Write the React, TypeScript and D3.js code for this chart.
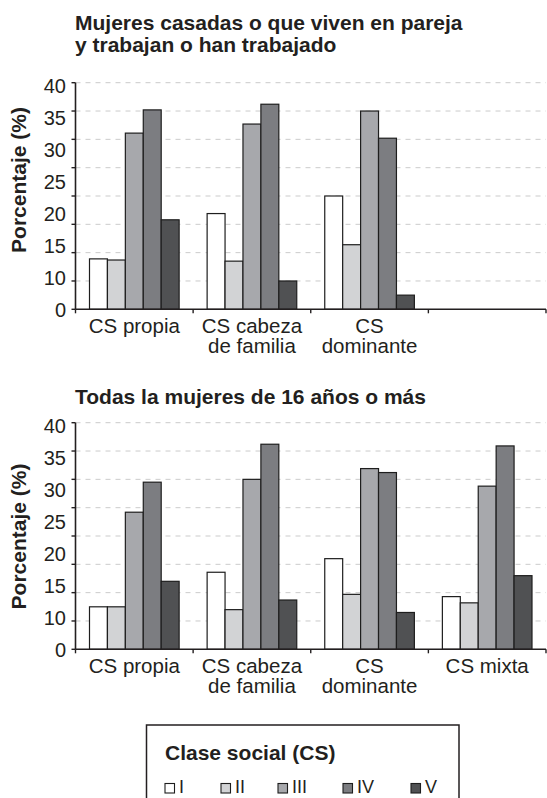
import React from "react";
import * as d3 from "d3";

const categories = ["CS propia", "CS cabeza de familia", "CS dominante", "CS mixta"];
const categoryLines: Record<string, string[]> = {
  "CS propia": ["CS propia"],
  "CS cabeza de familia": ["CS cabeza", "de familia"],
  "CS dominante": ["CS", "dominante"],
  "CS mixta": ["CS mixta"],
};
const classes = ["I", "II", "III", "IV", "V"];
const classColors = ["#ffffff", "#d2d3d5", "#a7a8ac", "#7c7d81", "#505153"];

// Panel 1: Mujeres casadas o que viven en pareja y trabajan o han trabajado
const topPropia = [8.9, 8.7, 31.1, 35.2, 15.8];
const topCabeza = [16.9, 8.5, 32.7, 36.2, 5.0];
const topDominante = [20.0, 11.4, 35.0, 30.2, 2.5];

// Panel 2: Todas la mujeres de 16 años o más
const botPropia = [7.5, 7.5, 24.2, 29.5, 12.0];
const botCabeza = [13.6, 7.0, 30.0, 36.2, 8.7];
const botDominante = [16.0, 9.7, 31.9, 31.2, 6.5];
const botMixta = [9.3, 8.2, 28.8, 35.9, 13.0];

const gridValues = [0, 5, 10, 15, 20, 25, 30, 35, 40];
const tickLabels = ["0", "10", "15", "20", "25", "30", "35", "40"];

const FONT = "'Liberation Sans', Arial, Helvetica, sans-serif";
const INK = "#231f20";

type Series = { cat: string; values: number[] };

const topSeries: Series[] = [
  { cat: categories[0], values: topPropia },
  { cat: categories[1], values: topCabeza },
  { cat: categories[2], values: topDominante },
];
const botSeries: Series[] = [
  { cat: categories[0], values: botPropia },
  { cat: categories[1], values: botCabeza },
  { cat: categories[2], values: botDominante },
  { cat: categories[3], values: botMixta },
];

function Panel({ series, yTop, yBase, titleLines, titleY, yTitleY }: {
  series: Series[]; yTop: number; yBase: number; titleLines: string[]; titleY: number; yTitleY: number;
}) {
  const xLeft = 75.5;
  const xRight = 546;
  const y = d3.scaleLinear().domain([0, 40]).range([yBase, yTop]);
  const yLab = d3.scalePoint<string>().domain(tickLabels).range([yBase, yTop + 2.6]);
  const x0 = d3.scaleBand<string>().domain(categories).range([xLeft, xRight]).padding(0);
  const bw = x0.bandwidth();
  const x1 = d3.scaleBand<string>().domain(classes).range([14, bw - 14]).padding(0);
  const bounds = [...categories.map((c) => x0(c) as number), xRight];

  return (
    <g>
      {titleLines.map((t, i) => (
        <text key={t} x={75} y={titleY + i * 21.5} fontFamily={FONT} fontWeight="bold" fontSize={21} fill={INK}>
          {t}
        </text>
      ))}
      {gridValues.filter((v) => v > 0).map((v) => (
        <line key={v} x1={xLeft} x2={xRight} y1={y(v)} y2={y(v)} stroke="#cbcbcb" strokeWidth={1} strokeDasharray="5,5" />
      ))}
      {series.map((s) => (
        <g key={s.cat} transform={`translate(${x0(s.cat)},0)`}>
          {s.values.map((v, i) => (
            <rect
              key={i}
              x={x1(classes[i]) as number}
              y={y(v)}
              width={x1.bandwidth()}
              height={yBase - y(v)}
              fill={classColors[i]}
              stroke="#1e1e1e"
              strokeWidth={1.2}
            />
          ))}
        </g>
      ))}
      {/* y axis */}
      <line x1={xLeft} x2={xLeft} y1={yTop} y2={yBase} stroke={INK} strokeWidth={1.6} />
      {gridValues.map((v) => (
        <line key={v} x1={xLeft - 4} x2={xLeft} y1={y(v)} y2={y(v)} stroke={INK} strokeWidth={1.4} />
      ))}
      {tickLabels.map((t) => (
        <text key={t} x={66} y={yLab(t)} dy="0.36em" textAnchor="end" fontFamily={FONT} fontSize={20} fill={INK}>
          {t}
        </text>
      ))}
      {/* x axis */}
      <line x1={xLeft} x2={xRight} y1={yBase} y2={yBase} stroke={INK} strokeWidth={1.6} />
      {bounds.map((b, i) => (
        <line key={i} x1={b} x2={b} y1={yBase} y2={yBase + 4} stroke={INK} strokeWidth={1.4} />
      ))}
      {series.map((s) =>
        categoryLines[s.cat].map((ln, i) => (
          <text
            key={s.cat + ln}
            x={(x0(s.cat) as number) + bw / 2}
            y={yBase + 24 + i * 19.5}
            textAnchor="middle"
            fontFamily={FONT}
            fontSize={20.5}
            fill={INK}
          >
            {ln}
          </text>
        ))
      )}
      <text
        transform={`translate(26,${yTitleY}) rotate(-90)`}
        textAnchor="middle"
        fontFamily={FONT}
        fontWeight="bold"
        fontSize={21}
        fill={INK}
      >
        Porcentaje (%)
      </text>
    </g>
  );
}

export default function App() {
  const legendX = [165, 221, 278, 343, 411];
  return (
    <svg width={547} height={798} style={{ position: "absolute", left: 0, top: 0, background: "#fff" }}>
      <rect x={0} y={0} width={547} height={798} fill="#fff" />
      <Panel
        series={topSeries}
        yTop={82.7}
        yBase={309.3}
        titleLines={["Mujeres casadas o que viven en pareja", "y trabajan o han trabajado"]}
        titleY={30}
        yTitleY={180}
      />
      <Panel
        series={botSeries}
        yTop={422.7}
        yBase={649.3}
        titleLines={["Todas la mujeres de 16 años o más"]}
        titleY={404}
        yTitleY={536.5}
      />
      <g>
        <rect x={146.5} y={725} width={312.5} height={90} fill="none" stroke={INK} strokeWidth={1.5} />
        <text x={165} y={759.5} fontFamily={FONT} fontWeight="bold" fontSize={21} fill={INK}>
          Clase social (CS)
        </text>
        {classes.map((c, i) => (
          <g key={c}>
            <rect x={legendX[i]} y={783.5} width={9.5} height={9.5} fill={classColors[i]} stroke="#1e1e1e" strokeWidth={1.1} />
            <text x={legendX[i] + 14} y={793.3} fontFamily={FONT} fontSize={18} fill={INK}>
              {c}
            </text>
          </g>
        ))}
      </g>
    </svg>
  );
}
